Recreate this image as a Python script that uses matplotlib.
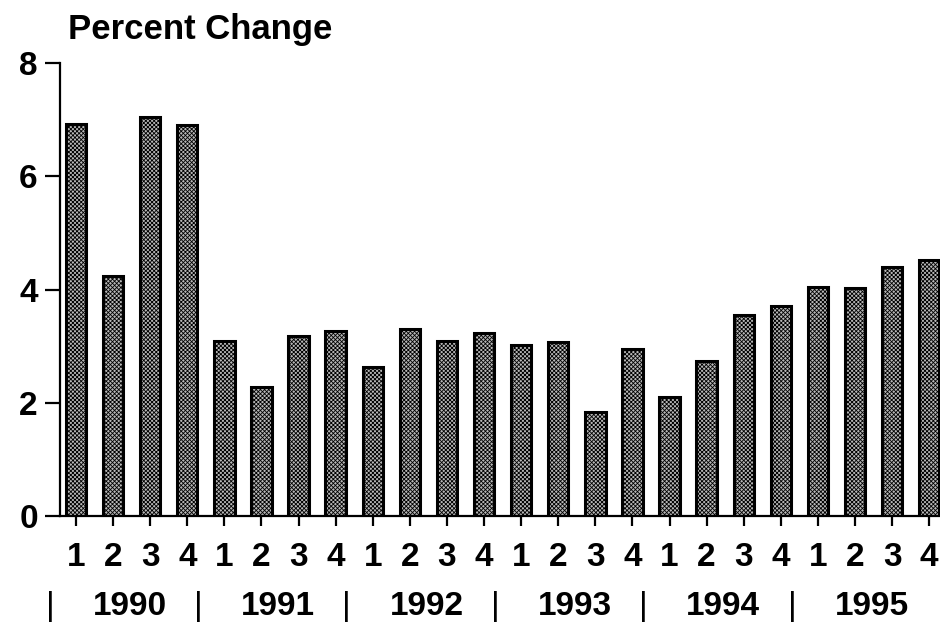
import matplotlib
matplotlib.use('Agg')
import numpy as np
import matplotlib.pyplot as plt
import matplotlib.transforms as mtransforms

plt.rcParams['font.family'] = ['Liberation Sans', 'DejaVu Sans']
plt.rcParams['font.weight'] = 'bold'
plt.rcParams['hatch.linewidth'] = 0.6

years = ['1990', '1991', '1992', '1993', '1994', '1995']
quarters = ['1', '2', '3', '4'] * len(years)
pct_change = [6.93, 4.24, 7.05, 6.90,
              3.09, 2.28, 3.18, 3.27,
              2.63, 3.30, 3.09, 3.23,
              3.02, 3.07, 1.84, 2.95,
              2.10, 2.74, 3.55, 3.71,
              4.05, 4.02, 4.40, 4.52]

fig = plt.figure(figsize=(9.4, 6.36), dpi=100)
ax = fig.add_axes([60 / 940, 120 / 636, 880 / 940, 453 / 636])

x = np.arange(len(pct_change))
ax.bar(x, pct_change, width=0.55, color='#b8b8b8', edgecolor='black',
       linewidth=2.2, hatch='xxxxxxxx')

ax.set_xlim(-0.43, 23.29)
ax.set_ylim(0, 8)
ax.spines['top'].set_visible(False)
ax.spines['right'].set_visible(False)
ax.spines['left'].set_linewidth(1.6)
ax.spines['bottom'].set_linewidth(1.6)

ax.set_yticks([0, 2, 4, 6, 8])
ax.set_xticks(x)
ax.set_xticklabels(quarters)
ax.tick_params(axis='x', length=7, width=1.6, pad=12, labelsize=24)
ax.tick_params(axis='y', length=11, width=1.6, pad=5, labelsize=24)

# year row under the quarter numbers
trans = mtransforms.blended_transform_factory(ax.transData, ax.transAxes)
for i, yr in enumerate(years):
    ax.text(4 * i + 1.45, -0.2, yr, transform=trans, ha='center', va='center',
            fontsize=24, fontweight='bold')
    ax.text(4 * i - 0.7, -0.2, '|', transform=trans, ha='center', va='center',
            fontsize=24, fontweight='normal')

fig.text(68 / 940, 1 - 30 / 636, 'Percent Change', ha='left', va='center',
         fontsize=25, fontweight='bold')

fig.savefig('out.png', dpi=100)
